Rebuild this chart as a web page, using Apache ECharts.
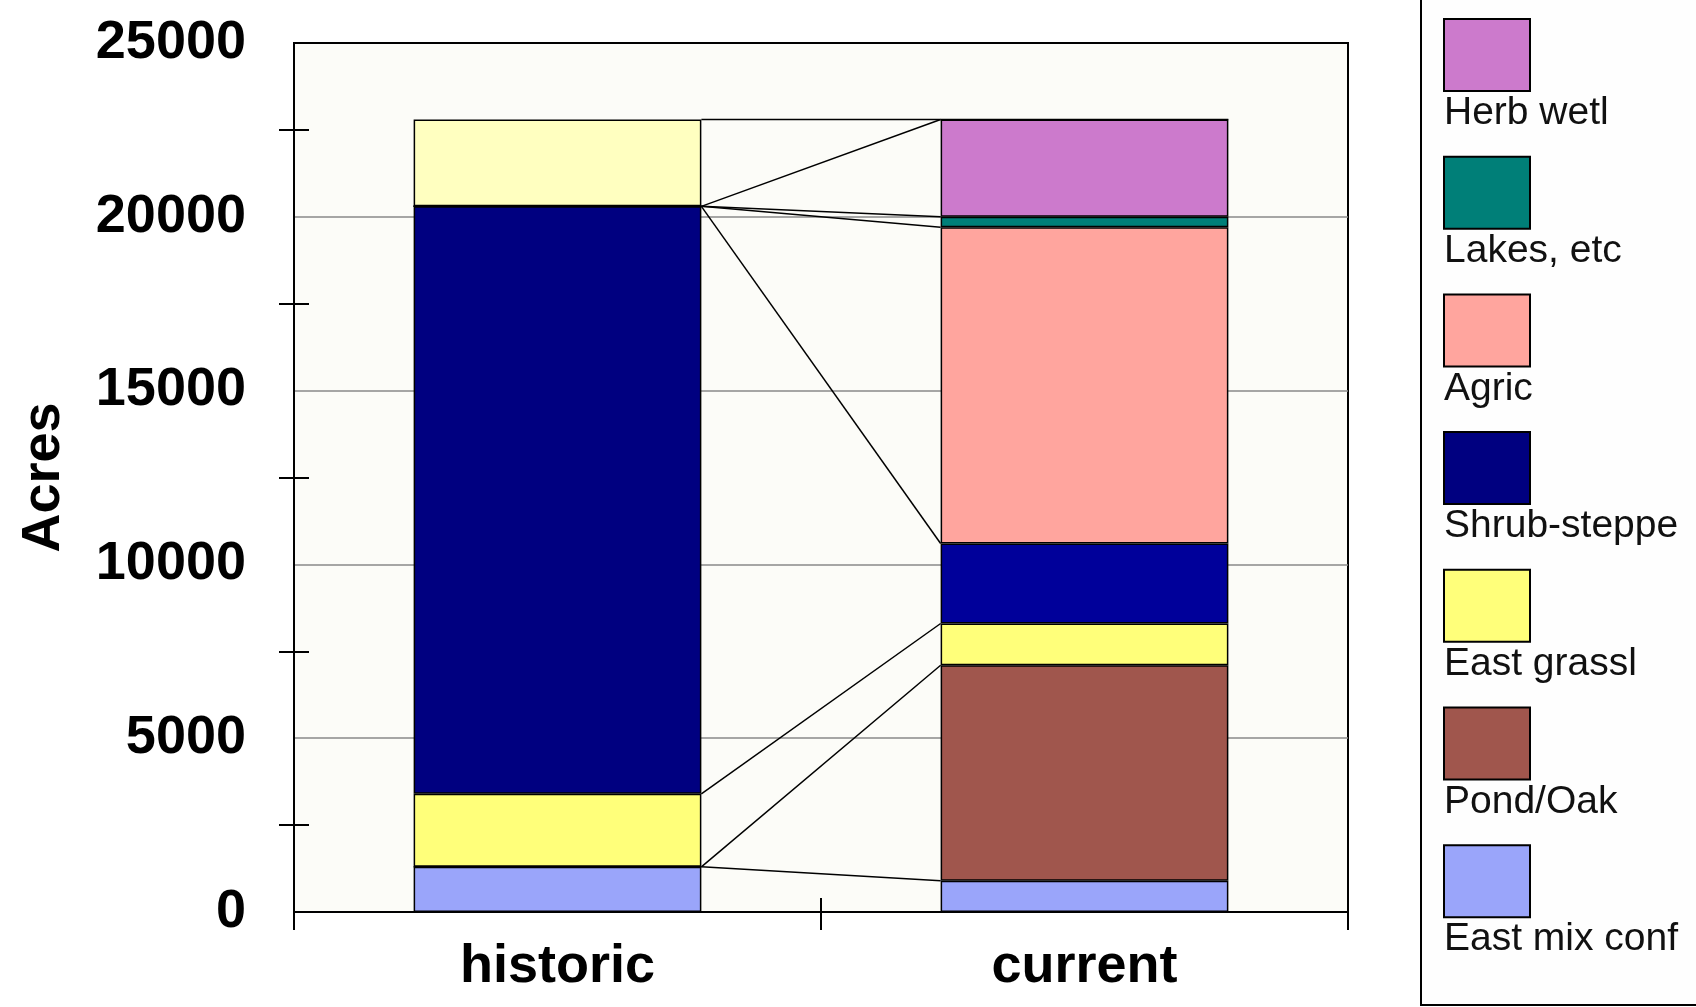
<!DOCTYPE html>
<html>
<head>
<meta charset="utf-8">
<script src="https://cdn.jsdelivr.net/npm/echarts@6/dist/echarts.min.js"></script>
<style>
  html, body { margin: 0; padding: 0; background: #ffffff; }
  #chart { width: 1696px; height: 1007px; }
</style>
</head>
<body>
<div id="chart"></div>
<script>
// Habitat acreage, historic vs current (stacked from the bottom up)
const periods = ['historic', 'current'];
const habitats = ['East mix conf', 'Pond/Oak', 'East grassl', 'Shrub-steppe', 'Agric', 'Lakes, etc', 'Herb wetl', 'Other'];
const historicAcres = [1300, 0, 2100, 16900, 0, 0, 0, 2500];
const currentAcres = [900, 6200, 1200, 2300, 9100, 300, 2800, 0];
const yAxisMax = 25000;
const yAxisStep = 5000;

const habitatColors = ['#9aa5fa', '#a0564d', '#ffff7a', '#000080', '#ffa59e', '#007f78', '#cc7acc', '#ffffc0'];
// the current shrub-steppe block is shaded a little brighter
const pointColors = { 'Shrub-steppe': [null, '#00009a'] };

const FONT = '"Liberation Sans", Arial, sans-serif';
const BAR_FRACTION = 0.546;          // bar width as a share of its category band
const GRID = { left: 294, right: 348, top: 43, bottom: 95 };
const HALF_TICK = 15;                // each half of the crossing half-step ticks

function cumulativeTops(values) {
  let s = 0;
  return values.map(v => (s += v));
}
const historicTops = cumulativeTops(historicAcres);
const currentTops = cumulativeTops(currentAcres);

// bar edges on a 0..2 value axis laid over the two category bands
const historicRightEdge = 0.5 + BAR_FRACTION / 2;
const currentLeftEdge = 1.5 - BAR_FRACTION / 2;

const barSeries = habitats.map((name, i) => ({
  name: name,
  type: 'bar',
  stack: 'acres',
  xAxisIndex: 0,
  yAxisIndex: 0,
  barWidth: (BAR_FRACTION * 100) + '%',
  z: 2,
  itemStyle: { color: habitatColors[i], borderColor: '#000000', borderWidth: 1.5 },
  data: [historicAcres[i], currentAcres[i]].map((v, k) => {
    const c = pointColors[name] && pointColors[name][k];
    return c ? { value: v, itemStyle: { color: c } } : v;
  })
}));

// series lines joining the top of each block across the gap
const connectorSeries = habitats.map((name, i) => ({
  name: name + ' link',
  type: 'line',
  xAxisIndex: 1,
  yAxisIndex: 0,
  symbol: 'none',
  silent: true,
  z: 3,
  lineStyle: { color: '#000000', width: 1.5 },
  data: [[historicRightEdge, historicTops[i]], [currentLeftEdge, currentTops[i]]]
}));

// legend column: top entry first, each label under its swatch
const legendOrder = ['Herb wetl', 'Lakes, etc', 'Agric', 'Shrub-steppe', 'East grassl', 'Pond/Oak', 'East mix conf'];
const legendGraphics = [{
  type: 'rect',
  shape: { x: 1421, y: -10, width: 300, height: 1015 },
  style: { fill: '#fefefe', stroke: '#000000', lineWidth: 2 }
}];
legendOrder.forEach((name, i) => {
  const idx = habitats.indexOf(name);
  const top = 19 + i * 137.7;
  legendGraphics.push({
    type: 'rect',
    shape: { x: 1444, y: top, width: 86, height: 72 },
    style: { fill: habitatColors[idx], stroke: '#000000', lineWidth: 2 }
  });
  legendGraphics.push({
    type: 'text',
    x: 1444,
    y: top + 75,
    style: { text: name, fill: '#111111', font: '39px ' + FONT, textAlign: 'left', textVerticalAlign: 'top' }
  });
});

const chart = echarts.init(document.getElementById('chart'), null, { renderer: 'canvas' });
chart.setOption({
  animation: false,
  backgroundColor: '#ffffff',
  grid: {
    left: GRID.left, right: GRID.right, top: GRID.top, bottom: GRID.bottom,
    show: true, backgroundColor: '#fcfcf8', borderColor: '#000000', borderWidth: 2
  },
  xAxis: [
    {
      type: 'category',
      position: 'bottom',
      data: periods,
      boundaryGap: true,
      axisLine: { show: true, lineStyle: { color: '#000000', width: 2 } },
      axisTick: { show: true, alignWithLabel: false, length: 18, lineStyle: { color: '#000000', width: 2 } },
      axisLabel: { color: '#000000', fontFamily: FONT, fontWeight: 'bold', fontSize: 54, margin: 28 },
      splitLine: { show: false }
    },
    {
      // helper scale for the connector lines; also carries the inner half of the crossing ticks
      type: 'value',
      position: 'bottom',
      min: 0, max: 2, interval: 1,
      axisLine: { show: false },
      axisTick: { show: true, inside: true, length: 14, lineStyle: { color: '#000000', width: 2 } },
      axisLabel: { show: false },
      splitLine: { show: false }
    }
  ],
  yAxis: [
    {
      type: 'value',
      position: 'left',
      min: 0, max: yAxisMax, interval: yAxisStep,
      name: 'Acres',
      nameLocation: 'middle',
      nameGap: 223,
      nameRotate: 90,
      nameTextStyle: { color: '#000000', fontFamily: FONT, fontWeight: 'bold', fontSize: 54 },
      axisLine: { show: true, lineStyle: { color: '#000000', width: 2 } },
      axisTick: { show: false },
      // outer half of the half-step ticks
      minorTick: { show: true, splitNumber: 2, length: HALF_TICK, lineStyle: { color: '#000000', width: 2 } },
      // inner half: a minor split line dashed so only its first stretch is drawn
      minorSplitLine: { show: true, lineStyle: { color: '#000000', width: 2, type: [HALF_TICK, 5000] } },
      axisLabel: {
        color: '#000000', fontFamily: FONT, fontWeight: 'bold', fontSize: 54, margin: 48,
        formatter: v => String(v)
      },
      splitLine: { show: true, showMinLine: false, showMaxLine: false, lineStyle: { color: '#8a8a8a', width: 1.5 } }
    }
  ],
  series: barSeries.concat(connectorSeries),
  graphic: legendGraphics
});
</script>
</body>
</html>
